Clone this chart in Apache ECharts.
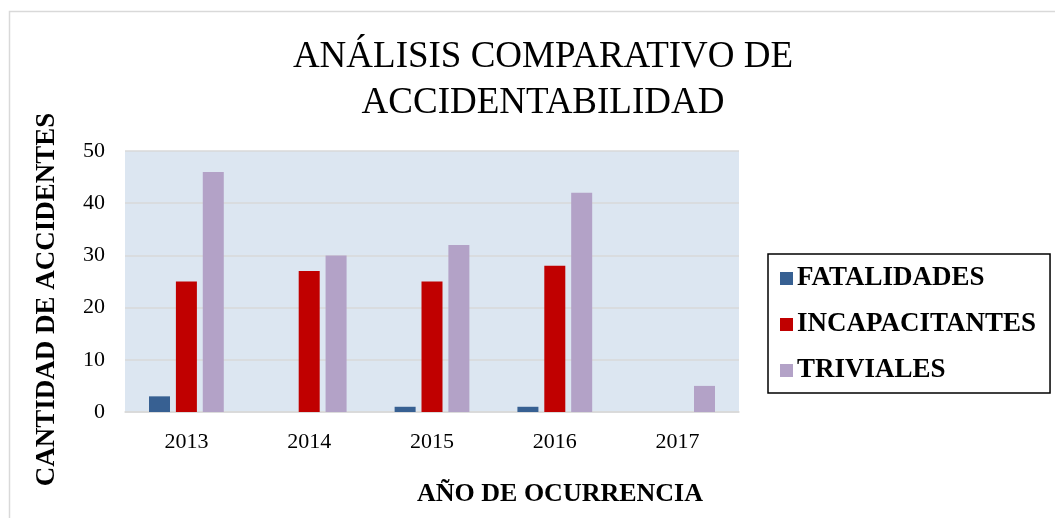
<!DOCTYPE html>
<html>
<head>
<meta charset="utf-8">
<script src="https://cdn.jsdelivr.net/npm/echarts@6/dist/echarts.min.js"></script>
<style>
  html, body { margin: 0; padding: 0; background: #fff; }
  #chart { width: 1055px; height: 518px; }
</style>
</head>
<body>
<div id="chart"></div>
<script>
// datos
const years = ['2013', '2014', '2015', '2016', '2017']
const fatalidades = [3, 0, 1, 1, 0]
const incapacitantes = [25, 27, 25, 28, 0]
const triviales = [46, 30, 32, 42, 5]
const yTicks = { min: 0, max: 50, interval: 10 }

const font = 'Liberation Serif, Times New Roman, serif'

function barSeries(name, data, color) {
  return {
    name: name,
    type: 'bar',
    data: data,
    barWidth: 21,
    barGap: '28%',
    itemStyle: { color: color }
  }
}

let chart = echarts.init(document.getElementById('chart'))
chart.setOption({
  animation: false,
  textStyle: { fontFamily: font },
  title: {
    text: 'ANÁLISIS COMPARATIVO DE\nACCIDENTABILIDAD',
    left: 538,
    textAlign: 'center',
    top: 29,
    textStyle: { fontFamily: font, fontSize: 37, fontWeight: 'normal', color: '#000', lineHeight: 46 }
  },
  graphic: [{
    type: 'rect',
    shape: { x: 9.5, y: 11.5, width: 1060, height: 520 },
    style: { fill: 'none', stroke: '#d9d9d9', lineWidth: 1.5 },
    silent: true
  }],
  legend: {
    orient: 'vertical',
    left: 768,
    top: 254,
    padding: [11, 14, 9, 12],
    itemGap: 19,
    itemWidth: 13,
    itemHeight: 13,
    borderColor: '#000',
    borderWidth: 1.5,
    icon: 'rect',
    textStyle: { fontFamily: font, fontSize: 27, fontWeight: 'bold', color: '#000', padding: [0, 0, 0, -1] },
    data: ['FATALIDADES', 'INCAPACITANTES', 'TRIVIALES']
  },
  grid: {
    left: 125,
    right: 316,
    top: 151,
    bottom: 106,
    show: true,
    backgroundColor: '#dce6f1',
    borderWidth: 0
  },
  xAxis: {
    type: 'category',
    data: years,
    name: 'AÑO DE OCURRENCIA',
    nameLocation: 'middle',
    nameGap: 69,
    nameTextStyle: { fontFamily: font, fontSize: 26, fontWeight: 'bold', color: '#000', padding: [0, 0, 0, 256] },
    axisLine: { lineStyle: { color: '#d9d9d9', width: 1.5 } },
    axisTick: { show: false },
    axisLabel: { fontFamily: font, fontSize: 22, color: '#000', margin: 19 }
  },
  yAxis: {
    type: 'value',
    min: yTicks.min,
    max: yTicks.max,
    interval: yTicks.interval,
    name: 'CANTIDAD DE ACCIDENTES',
    nameLocation: 'middle',
    nameRotate: 90,
    nameGap: 64,
    nameTextStyle: { fontFamily: font, fontSize: 27, fontWeight: 'bold', color: '#000', padding: [0, 36, 0, 0] },
    axisLine: { show: false },
    axisTick: { show: false },
    axisLabel: { fontFamily: font, fontSize: 22, color: '#000', margin: 20 },
    splitLine: { lineStyle: { color: '#d9d9d9', width: 1.5 } }
  },
  series: [
    barSeries('FATALIDADES', fatalidades, '#376092'),
    barSeries('INCAPACITANTES', incapacitantes, '#c00000'),
    barSeries('TRIVIALES', triviales, '#b3a2c7')
  ]
})
</script>
</body>
</html>
